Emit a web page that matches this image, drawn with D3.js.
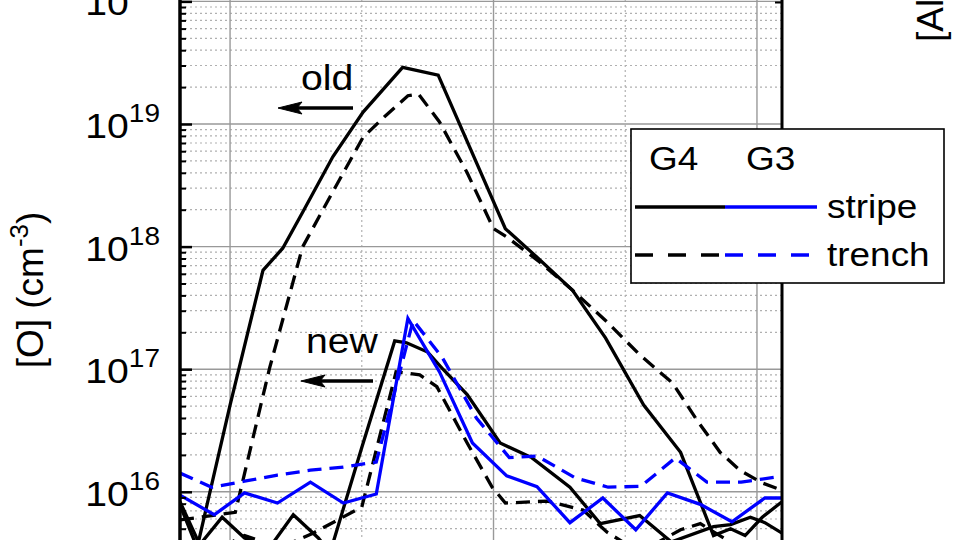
<!DOCTYPE html>
<html>
<head>
<meta charset="utf-8">
<script src="https://cdn.jsdelivr.net/npm/d3@7"></script>
<style>
body { margin: 0; background: #fff; }
svg { display: block; }
text { font-family: "Liberation Sans", Arial, sans-serif; fill: #000; }
</style>
</head>
<body>
<svg width="960" height="540"></svg>
<script>
// depth (x units) / [O] concentration (cm^-3)
const g4StripeOld = [[-38, 7.8e15], [-25, 3.5e15], [0, 5.1e16], [25, 6.4e17], [40, 9.7e17], [55, 1.9e18], [78, 5.4e18],
  [101, 1.25e19], [131, 2.9e19], [158, 2.5e19], [209, 1.4e18], [233, 8.2e17], [260, 4.4e17], [285, 1.8e17], [314, 5.1e16],
  [342, 2.1e16], [367, 4.4e15], [380, 5.0e15], [391, 4.4e15], [404, 6.2e15], [419, 8.3e15]];
const g4TrenchOld = [[-38, 5.9e15], [-23, 6.2e15], [4, 6.8e15], [30, 1.02e17], [55, 9.9e17], [78, 2.8e18], [101, 7.8e18],
  [117, 1.14e19], [135, 1.7e19], [143, 1.76e19], [159, 1.04e19], [180, 4.0e18], [200, 1.4e18], [210, 1.2e18], [235, 7.5e17],
  [260, 4.4e17], [285, 2.5e17], [311, 1.31e17], [336, 7.7e16], [354, 3.9e16], [372, 2.1e16], [387, 1.5e16], [404, 1.18e16], [419, 1.03e16]];
const g4StripeNew = [[-38, 8.3e15], [-23, 3.7e15], [-6, 6.2e15], [11, 4.2e15], [30, 3.5e15], [48, 6.5e15], [67, 4.2e15],
  [76, 3.2e15], [100, 2.3e16], [125, 1.7e17], [134, 1.64e17], [150, 1.38e17], [162, 9.9e16], [180, 6.2e16], [205, 2.5e16],
  [229, 1.9e16], [258, 1.09e16], [281, 5.5e15], [311, 6.4e15], [335, 3.9e15], [367, 5.2e15], [380, 5.4e15], [395, 6.2e15],
  [406, 5.6e15], [419, 4.6e15]];
const g4TrenchNew = [[-38, 3.5e15], [-14, 3.2e15], [11, 4.4e15], [38, 3.5e15], [63, 4.6e15], [100, 7.5e15], [126, 9.5e16],
  [144, 9.0e16], [157, 7.2e16], [180, 2.5e16], [199, 1.09e16], [209, 8.1e15], [241, 8.4e15], [268, 7.1e15], [286, 4.7e15],
  [311, 3.2e15], [342, 4.9e15], [357, 5.5e15], [383, 3.7e15], [419, 3.4e15]];
const g3Stripe = [[-38, 9.4e15], [-12, 6.5e15], [11, 9.8e15], [36, 8.1e15], [61, 1.2e16], [86, 8.1e15], [111, 9.6e15],
  [135, 2.6e17], [159, 9.5e16], [184, 2.5e16], [210, 1.35e16], [233, 1.1e16], [258, 5.6e15], [283, 8.9e15], [308, 4.9e15],
  [332, 9.8e15], [357, 7.9e15], [381, 5.7e15], [406, 8.9e15], [419, 8.9e15]];
const g3Trench = [[-38, 1.42e16], [-14, 1.09e16], [11, 1.22e16], [36, 1.37e16], [61, 1.5e16], [86, 1.59e16], [111, 1.75e16],
  [139, 2.5e17], [161, 1.25e17], [187, 4.0e16], [212, 1.9e16], [233, 1.96e16], [262, 1.3e16], [287, 1.09e16], [312, 1.11e16],
  [338, 1.89e16], [362, 1.2e16], [388, 1.2e16], [415, 1.32e16], [419, 1.32e16]];

const yMajor = [1e15, 1e16, 1e17, 1e18, 1e19, 1e20];
const yExponents = ["15", "16", "17", "18", "19", "20"];
const xMajor = [0, 200, 400];
const xMinor = [100, 300];
const legendCols = ["G4", "G3"];
const legendRows = ["stripe", "trench"];

const width = 960, height = 540;
const left = 180, right = 782;
const stretch = 1.12;

const svg = d3.select("svg");
svg.append("rect").attr("width", width).attr("height", height).attr("fill", "#fff");

const x = d3.scaleLinear().domain([-38, 419]).range([left, right]);
const y = d3.scaleLog().domain([1e15, 1e20]).range([614.4, 1.4]);

svg.append("clipPath").attr("id", "plot")
  .append("rect").attr("x", left).attr("y", -10).attr("width", right - left).attr("height", 580);

// grid
const minorY = y.ticks().filter(v => Math.abs(Math.log10(v) - Math.round(Math.log10(v))) > 1e-6);
const grid = svg.append("g").attr("clip-path", "url(#plot)");
grid.selectAll(".hmin").data(minorY).join("line")
  .attr("x1", left).attr("x2", right).attr("y1", d => y(d)).attr("y2", d => y(d))
  .attr("stroke", "#b0b0b0").attr("stroke-width", 1.2).attr("stroke-dasharray", "2,3");
grid.selectAll(".vmin").data(xMinor).join("line")
  .attr("x1", d => x(d)).attr("x2", d => x(d)).attr("y1", -10).attr("y2", 560)
  .attr("stroke", "#b0b0b0").attr("stroke-width", 1.2).attr("stroke-dasharray", "2,3");
grid.selectAll(".hmaj").data(yMajor).join("line")
  .attr("x1", left).attr("x2", right).attr("y1", d => y(d)).attr("y2", d => y(d))
  .attr("stroke", "#999").attr("stroke-width", 1.4);
grid.selectAll(".vmaj").data(xMajor).join("line")
  .attr("x1", d => x(d)).attr("x2", d => x(d)).attr("y1", -10).attr("y2", 560)
  .attr("stroke", "#999").attr("stroke-width", 1.4);

// profiles
const line = d3.line().x(d => x(d[0])).y(d => y(d[1]));
const series = [
  { data: g4StripeOld, color: "#000", dash: null },
  { data: g4TrenchOld, color: "#000", dash: "14,8" },
  { data: g4StripeNew, color: "#000", dash: null },
  { data: g4TrenchNew, color: "#000", dash: "14,8" },
  { data: g3Trench, color: "#0000ff", dash: "14,8" },
  { data: g3Stripe, color: "#0000ff", dash: null }
];
svg.append("g").attr("clip-path", "url(#plot)")
  .selectAll("path").data(series).join("path")
  .attr("d", d => line(d.data))
  .attr("fill", "none")
  .attr("stroke", d => d.color)
  .attr("stroke-width", 3.3)
  .attr("stroke-linejoin", "miter")
  .attr("stroke-dasharray", d => d.dash);

// left axis, ticks inside
const axisL = svg.append("g").attr("transform", `translate(${left},0)`);
axisL.call(d3.axisRight(y).tickValues(yMajor).tickSize(12).tickSizeOuter(0).tickFormat(""));
axisL.call(g => g.select(".domain").remove());
axisL.selectAll(".tick line").attr("stroke-width", 2.5);
const axisM = svg.append("g").attr("transform", `translate(${left},0)`);
axisM.call(d3.axisRight(y).tickValues(minorY).tickSize(6).tickSizeOuter(0).tickFormat(""));
axisM.call(g => g.select(".domain").remove());
axisM.selectAll(".tick line").attr("stroke-width", 2);
svg.append("line").attr("x1", left).attr("x2", left).attr("y1", -5).attr("y2", 545)
  .attr("stroke", "#000").attr("stroke-width", 3.5);

// right axis
svg.append("line").attr("x1", right).attr("x2", right).attr("y1", -5).attr("y2", 545)
  .attr("stroke", "#000").attr("stroke-width", 3);
svg.append("line").attr("x1", right - 7).attr("x2", right).attr("y1", 2.5).attr("y2", 2.5)
  .attr("stroke", "#000").attr("stroke-width", 2);

// tick labels (only decades that fall inside the picture)
const shown = yMajor.map((v, i) => ({ v, e: yExponents[i] })).filter(d => y(d.v) < height);
const labels = svg.selectAll(".ylab").data(shown).join("text")
  .attr("transform", d => `translate(160,${y(d.v) + 14}) scale(${stretch},1)`)
  .attr("text-anchor", "end").attr("font-size", 35);
labels.append("tspan").text("10");
labels.append("tspan").attr("dy", -16).attr("font-size", 25).text(d => d.e);

// axis titles
const yTitle = svg.append("text").attr("transform", "translate(43,290) rotate(-90)")
  .attr("text-anchor", "middle").attr("font-size", 37);
yTitle.append("tspan").text("[O] (cm");
yTitle.append("tspan").attr("dy", -15).attr("font-size", 26).text("-3");
yTitle.append("tspan").attr("dy", 15).text(")");

const alTitle = svg.append("text").attr("transform", "translate(943,42) rotate(-90)")
  .attr("text-anchor", "start").attr("font-size", 37);
alTitle.append("tspan").text("[Al] (cm");
alTitle.append("tspan").attr("dy", -15).attr("font-size", 26).text("-3");
alTitle.append("tspan").attr("dy", 15).text(")");

// annotations
function note(txt, tx, ty, x0, x1, ay) {
  svg.append("text").attr("transform", `translate(${tx},${ty}) scale(${stretch},1)`)
    .attr("font-size", 35).text(txt);
  svg.append("line").attr("x1", x0 + 18).attr("x2", x1).attr("y1", ay).attr("y2", ay)
    .attr("stroke", "#000").attr("stroke-width", 3.5);
  svg.append("path")
    .attr("d", `M${x0},${ay} L${x0 + 24},${ay - 6} L${x0 + 19},${ay} L${x0 + 24},${ay + 6} Z`)
    .attr("fill", "#000").attr("stroke", "#000").attr("stroke-width", 1);
}
note("old", 301, 90, 278, 353, 108);
note("new", 306, 353, 301, 373, 381);

// legend
const lg = svg.append("g");
lg.append("rect").attr("x", 631).attr("y", 129).attr("width", 313).attr("height", 154)
  .attr("fill", "#fff").attr("stroke", "#000").attr("stroke-width", 1.6);
lg.selectAll(".col").data(legendCols).join("text")
  .attr("transform", (d, i) => `translate(${[649, 746][i]},170) scale(${stretch},1)`)
  .attr("font-size", 33).text(d => d);
const rowY = [207, 255];
legendRows.forEach((r, i) => {
  const dash = i === 0 ? null : "18,15";
  lg.append("line").attr("x1", 635).attr("x2", 725).attr("y1", rowY[i]).attr("y2", rowY[i])
    .attr("stroke", "#000").attr("stroke-width", 3.5).attr("stroke-dasharray", dash);
  lg.append("line").attr("x1", 725).attr("x2", 817).attr("y1", rowY[i]).attr("y2", rowY[i])
    .attr("stroke", "#0000ff").attr("stroke-width", 3.5).attr("stroke-dasharray", dash);
  lg.append("text").attr("transform", `translate(827,${rowY[i] + 11}) scale(${stretch},1)`)
    .attr("font-size", 33).text(r);
});
</script>
</body>
</html>
